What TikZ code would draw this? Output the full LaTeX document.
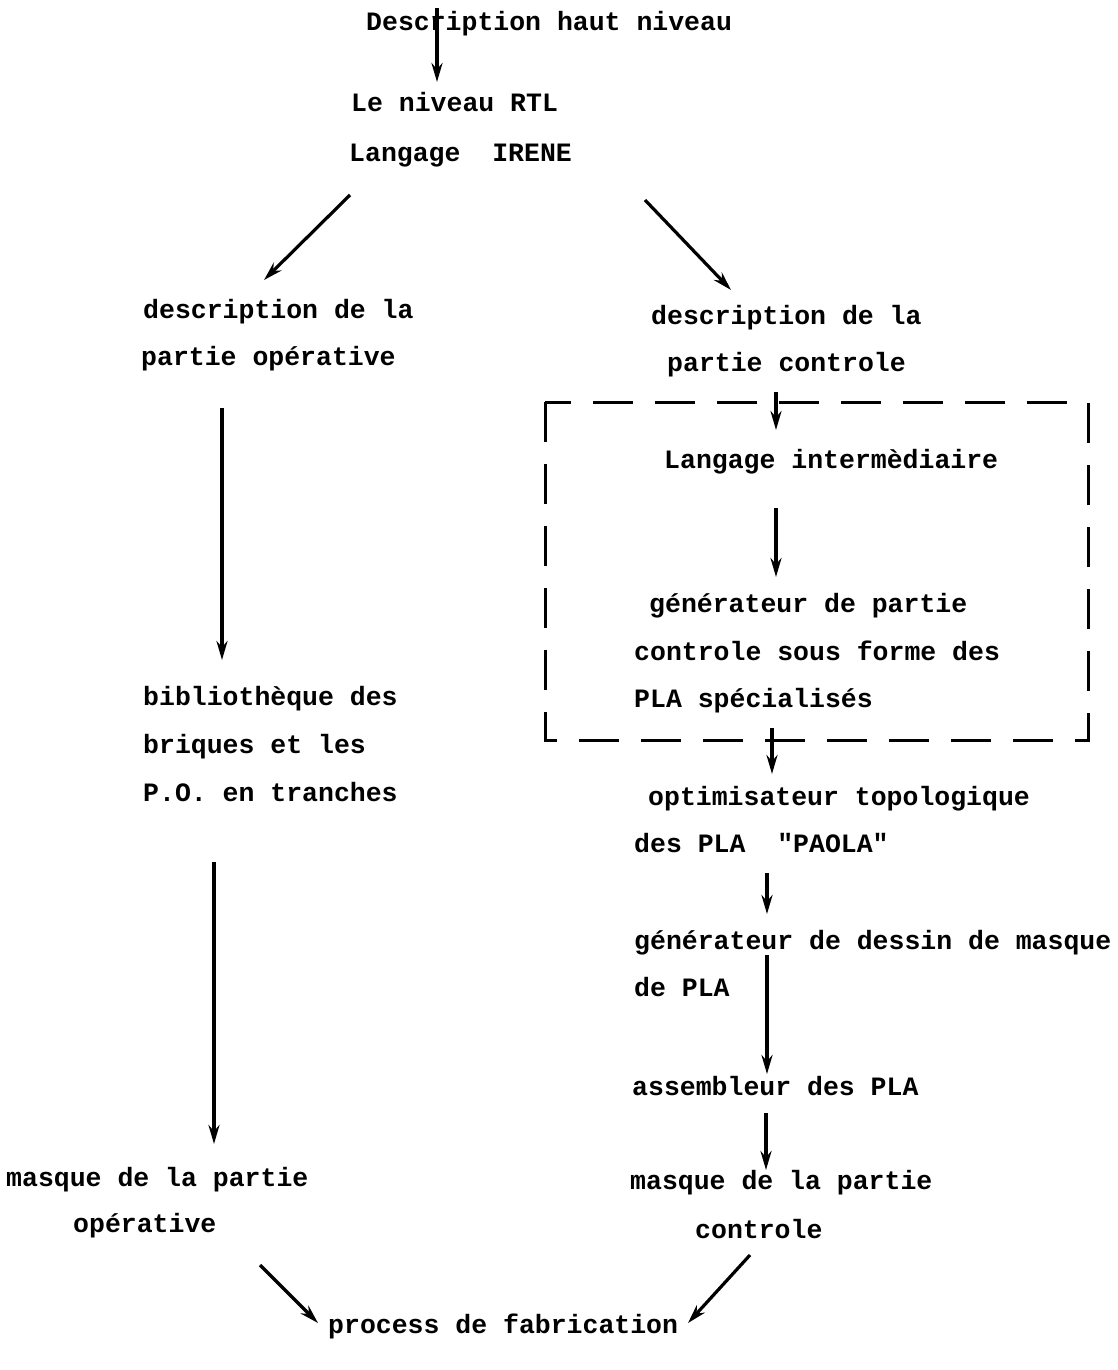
\documentclass[tikz,border=0pt]{standalone}
\usepackage{fontspec}
\newfontfamily\typew{Liberation Mono}
\usetikzlibrary{arrows.meta}
\begin{document}
\begin{tikzpicture}[x=1pt,y=-1pt,
 txt/.style={anchor=west,inner sep=0pt,yshift=-2pt,font=\typew\fontsize{26.5}{30}\bfseries\selectfont,text height=18pt,text depth=5pt},
 arr/.style={line width=3.2pt,-{Stealth[length=19pt,width=11pt]}},
 dbox/.style={line width=3pt,dash pattern=on 40pt off 22pt}]
\useasboundingbox[fill=white] (0,0) rectangle (1118,1370);
% texts
\node[txt] (top) at (366,22) {Description haut niveau};
\node[txt] (rtl) at (351,103) {Le niveau RTL};
\node[txt] (irene) at (349,153) {Langage~~IRENE};
\node[txt] (lpo1) at (143,310) {description de la};
\node[txt] (lpo2) at (141,357) {partie opérative};
\node[txt] (rpc1) at (651,316) {description de la};
\node[txt] (rpc2) at (667,363) {partie controle};
\node[txt] (li) at (664,460) {Langage intermèdiaire};
\node[txt] (gen1) at (649,604) {générateur de partie};
\node[txt] (gen2) at (634,652) {controle sous forme des};
\node[txt] (gen3) at (634,699) {PLA spécialisés};
\node[txt] (opt1) at (648,797) {optimisateur topologique};
\node[txt] (opt2) at (634,844) {des PLA~~"PAOLA"};
\node[txt] (gd1) at (634,941) {générateur de dessin de masque};
\node[txt] (gd2) at (634,988) {de PLA};
\node[txt] (asm) at (632,1087) {assembleur des PLA};
\node[txt] (mc1) at (630,1181) {masque de la partie};
\node[txt] (mc2) at (695,1230) {controle};
\node[txt] (bib1) at (143,697) {bibliothèque des};
\node[txt] (bib2) at (143,745) {briques et les};
\node[txt] (bib3) at (143,793) {P.O. en tranches};
\node[txt] (mo1) at (6,1178) {masque de la partie};
\node[txt] (mo2) at (73,1224) {opérative};
\node[txt] (proc) at (328,1325) {process de fabrication};
% dashed box
\draw[dbox] (545,402) rectangle (1088,740);
% arrow end points
\coordinate (a1s) at (437,8);    \coordinate (a1e) at (437,82);
\coordinate (a2s) at (350,195);  \coordinate (a2e) at (264,280);
\coordinate (a3s) at (645,200);  \coordinate (a3e) at (731,290);
\coordinate (a4s) at (222,408);  \coordinate (a4e) at (222,660);
\coordinate (a5s) at (214,862);  \coordinate (a5e) at (214,1144);
\coordinate (a6s) at (776,392);  \coordinate (a6e) at (776,430);
\coordinate (a7s) at (776,508);  \coordinate (a7e) at (776,577);
\coordinate (a8s) at (772,728);  \coordinate (a8e) at (772,774);
\coordinate (a9s) at (767,873);  \coordinate (a9e) at (767,914);
\coordinate (a10s) at (767,955); \coordinate (a10e) at (767,1074);
\coordinate (a11s) at (766,1113);\coordinate (a11e) at (766,1170);
\coordinate (a12s) at (260,1265);\coordinate (a12e) at (318,1323);
\coordinate (a13s) at (750,1255);\coordinate (a13e) at (688,1323);
\foreach \i in {1,...,13} \draw[arr] (a\i s) -- (a\i e);
\end{tikzpicture}
\end{document}
